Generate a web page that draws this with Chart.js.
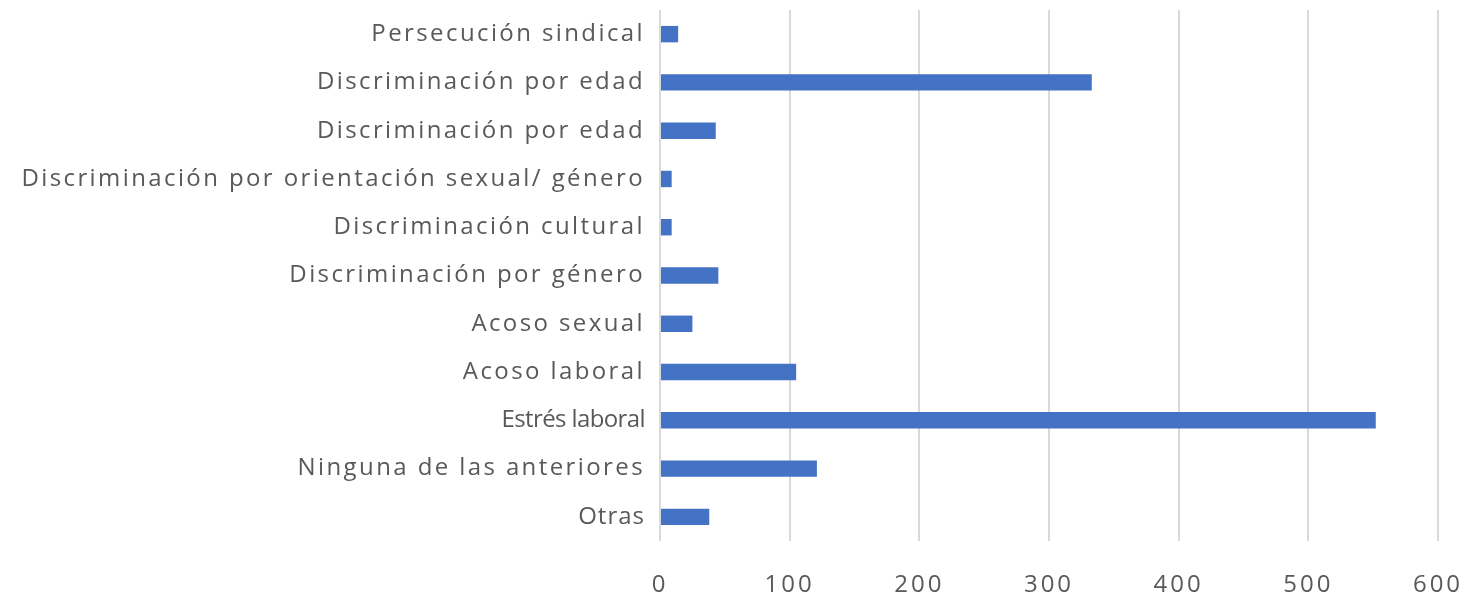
<!DOCTYPE html>
<html lang="es">
<head>
    <meta charset="UTF-8">
    <title>Factores de riesgo</title>
    <script src="https://cdn.jsdelivr.net/npm/chart.js"></script>
    <style>
        html, body {
            margin: 0;
            padding: 0;
            background: #fff;
        }
        .chart-box {
            width: 1464px;
            height: 595px;
        }
    </style>
</head>
<body>
    <div class="chart-box">
        <canvas id="riesgos"></canvas>
    </div>

    <script>
        // Categories, top to bottom
        const categorias = [
            'Persecución sindical',
            'Discriminación por edad',
            'Discriminación por edad',
            'Discriminación por orientación sexual/ género',
            'Discriminación cultural',
            'Discriminación por género',
            'Acoso sexual',
            'Acoso laboral',
            'Estrés laboral',
            'Ninguna de las anteriores',
            'Otras'
        ];
        const respuestas = [14, 333, 43, 9, 9, 45, 25, 105, 552, 121, 38];
        const ejeX = [0, 100, 200, 300, 400, 500, 600];

        const textColor = '#595959';
        const fontFamily = "'Open Sans', sans-serif";

        // wide letter spacing like the original export (drawing only)
        const spacingPlugin = {
            id: 'spacing',
            beforeDraw(chart) { chart.ctx.letterSpacing = '3px'; }
        };

        // y labels drawn by hand so each one can get its own spacing
        const yLabelsPlugin = {
            id: 'yLabels',
            afterDraw(chart) {
                const ctx = chart.ctx;
                const y = chart.scales.y;
                const right = chart.chartArea.left - 15;
                ctx.save();
                ctx.fillStyle = textColor;
                ctx.textAlign = 'right';
                ctx.textBaseline = 'middle';
                categorias.forEach((txt, i) => {
                    if (txt === 'Estrés laboral') {
                        ctx.letterSpacing = '-0.6px';
                    } else if (txt === 'Otras') {
                        ctx.letterSpacing = '1px';
                    } else {
                        ctx.letterSpacing = '2.4px';
                    }
                    ctx.font = '24px ' + fontFamily;
                    ctx.fillText(txt, right, y.getPixelForTick(i));
                });
                ctx.restore();
            }
        };

        new Chart(document.getElementById('riesgos'), {
            type: 'bar',
            data: {
                labels: categorias,
                datasets: [{
                    data: respuestas,
                    backgroundColor: '#4472C4',
                    categoryPercentage: 1,
                    barPercentage: 0.34
                }]
            },
            options: {
                indexAxis: 'y',
                responsive: true,
                maintainAspectRatio: false,
                animation: false,
                layout: { padding: { left: 4, right: 0, top: 10, bottom: 0 } },
                plugins: {
                    legend: { display: false },
                    tooltip: { enabled: false }
                },
                scales: {
                    x: {
                        min: ejeX[0],
                        max: ejeX[ejeX.length - 1],
                        afterBuildTicks: (axis) => {
                            axis.ticks = ejeX.map(v => ({ value: v }));
                        },
                        afterFit: (scale) => {
                            scale.height = 54;
                            scale.paddingLeft = 0;
                            scale.paddingRight = 26;
                        },
                        grid: {
                            color: '#d9d9d9',
                            lineWidth: 2,
                            drawTicks: false
                        },
                        border: { display: false },
                        ticks: {
                            color: textColor,
                            font: { family: fontFamily, size: 24, lineHeight: 1 },
                            padding: 32,
                            maxRotation: 0
                        }
                    },
                    y: {
                        grid: { display: false, drawTicks: false },
                        border: { display: false },
                        ticks: { display: false },
                        afterFit: (scale) => { scale.width = 656; }
                    }
                }
            },
            plugins: [spacingPlugin, yLabelsPlugin]
        });
    </script>
</body>
</html>
